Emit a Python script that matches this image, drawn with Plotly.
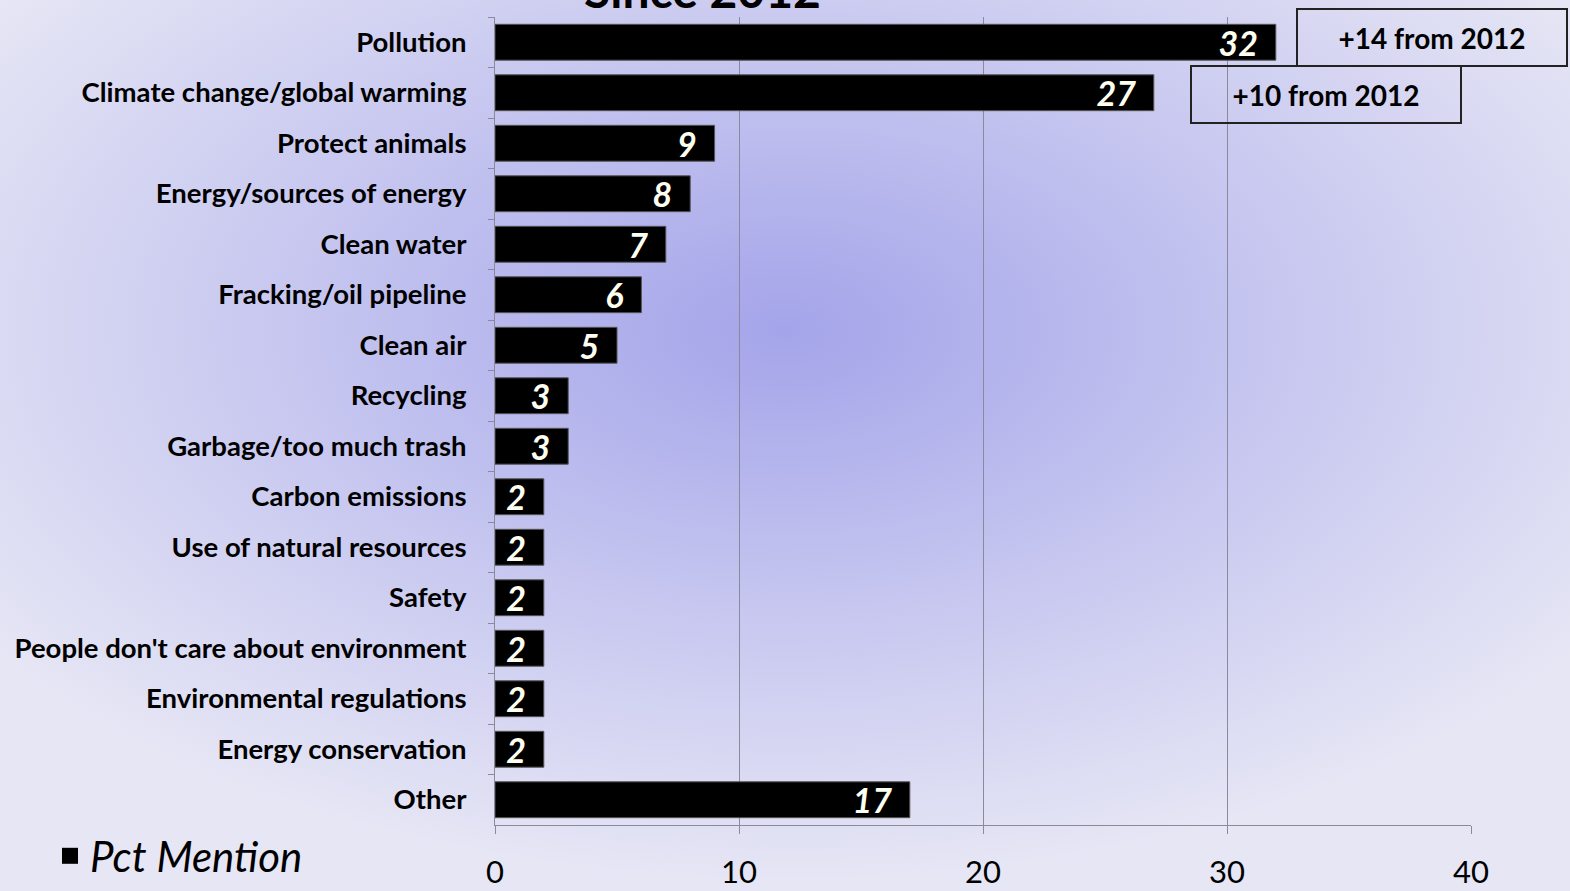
import base64
import plotly.graph_objects as go

# data
categories = [
    "Pollution", "Climate change/global warming", "Protect animals", "Energy/sources of energy",
    "Clean water", "Fracking/oil pipeline", "Clean air", "Recycling", "Garbage/too much trash",
    "Carbon emissions", "Use of natural resources", "Safety", "People don't care about environment",
    "Environmental regulations", "Energy conservation", "Other",
]
pct_mention = [32, 27, 9, 8, 7, 6, 5, 3, 3, 2, 2, 2, 2, 2, 2, 17]
change_notes = ["+14 from 2012", "+10 from 2012"]

W, H = 1570, 891
FONT = "Lato"

# radial gradient background as an svg image
bg_svg = f"""<svg xmlns='http://www.w3.org/2000/svg' width='{W}' height='{H}' preserveAspectRatio='none'>
<defs><radialGradient id='g' cx='0.5' cy='0.37' r='0.62'>
<stop offset='0' stop-color='#a4a4ea'/><stop offset='0.5' stop-color='#c6c6f0'/>
<stop offset='1' stop-color='#e6e6f5'/></radialGradient></defs>
<rect width='{W}' height='{H}' fill='url(#g)'/></svg>"""
bg_src = "data:image/svg+xml;base64," + base64.b64encode(bg_svg.encode()).decode()

fig = go.Figure()
fig.add_trace(go.Bar(
    x=pct_mention, y=categories, orientation="h",
    name="Pct Mention", showlegend=False,
    marker=dict(color="black", line=dict(color="#555", width=1)),
    text=pct_mention, texttemplate="%{text}\u00a0\u00a0",
    textposition="inside", insidetextanchor="end", constraintext="none", textangle=0,
    textfont=dict(family=FONT, size=34, color="#fffff0", weight="bold", style="italic"),
))
# legend entry with a bigger square swatch
fig.add_trace(go.Scatter(
    x=[None], y=[None], mode="markers", name="Pct Mention",
    marker=dict(symbol="square", size=20, color="black"),
))

fig.update_layout(
    width=W, height=H, autosize=False,
    margin=dict(l=0, r=0, t=0, b=0),
    paper_bgcolor="#e6e6f5", plot_bgcolor="rgba(0,0,0,0)",
    bargap=0.29,
    font=dict(family=FONT, color="black"),
    images=[dict(source=bg_src, xref="paper", yref="paper", x=0, y=1,
                 sizex=1, sizey=1, sizing="stretch", layer="below")],
    xaxis=dict(domain=[495 / W, 1471 / W], range=[0, 40], tickvals=[0, 10, 20, 30, 40],
               automargin=False, showgrid=True, gridcolor="#8a8a9a", gridwidth=1,
               showline=True, linecolor="#8a8a9a", ticks="outside", ticklen=8,
               tickcolor="#8a8a9a", ticklabelstandoff=12,
               tickfont=dict(size=31, family=FONT), zeroline=False),
    yaxis=dict(domain=[1 - 825 / H, 1 - 17 / H], autorange="reversed", automargin=False,
               showline=True, linecolor="#8a8a9a", ticks="outside", ticklen=6,
               tickcolor="#8a8a9a", tickson="boundaries", ticklabelstandoff=22,
               tickfont=dict(size=27.5, family=FONT, weight="bold"), showgrid=False),
    legend=dict(x=50 / W, y=1 / H, xanchor="left", yanchor="bottom",
                bgcolor="rgba(0,0,0,0)", itemwidth=30,
                font=dict(size=42, family=FONT, style="italic")),
    annotations=[
        dict(text="Since 2012", xref="paper", yref="paper", x=702 / W, y=1 - 20 / H,
             xanchor="center", yanchor="bottom", showarrow=False,
             font=dict(size=48, family=FONT, weight="bold", color="black")),
        dict(text=change_notes[0], xref="paper", yref="paper", x=1432 / W, y=1 - 37 / H,
             xanchor="center", yanchor="middle",
             width=266, height=53, bordercolor="#222", borderwidth=2, showarrow=False,
             font=dict(size=28, family=FONT, weight="bold")),
        dict(text=change_notes[1], xref="paper", yref="paper", x=1326 / W, y=1 - 95 / H,
             xanchor="center", yanchor="middle",
             width=266, height=53, bordercolor="#222", borderwidth=2, showarrow=False,
             font=dict(size=28, family=FONT, weight="bold")),
    ],
)

fig.write_html(
    "out.html",
    config={"responsive": False, "displayModeBar": False},
    post_script=("document.body.style.margin='0';"
                 "document.documentElement.style.overflow='hidden';"),
)
